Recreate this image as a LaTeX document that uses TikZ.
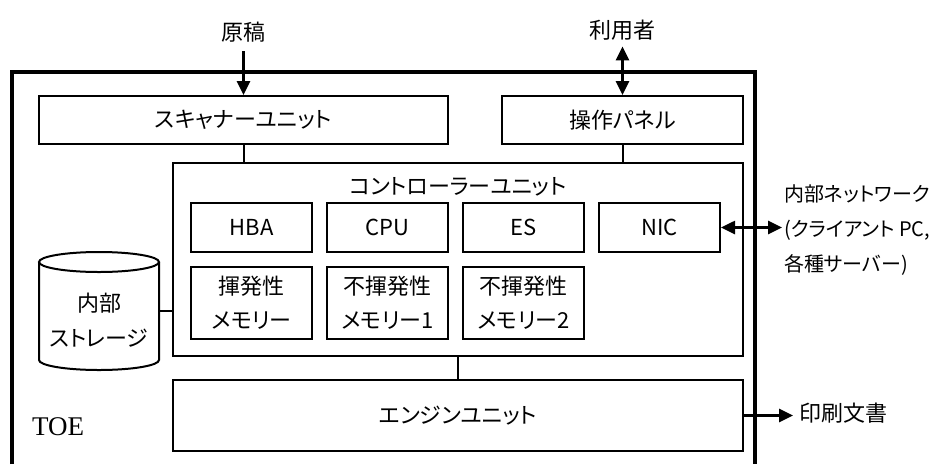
\documentclass[tikz,border=0pt]{standalone}
\usepackage{fontspec}
\setmainfont{Liberation Serif}
\newfontfamily\jp[RawFeature=+palt]{Noto Sans CJK JP}
\usetikzlibrary{arrows.meta}
\begin{document}
\begin{tikzpicture}[x=1pt,y=-1pt,
  box/.style={draw, line width=2pt, inner sep=0pt, font=\jp\fontsize{22}{34}\selectfont, align=center},
  lbl/.style={inner sep=0pt, font=\jp\fontsize{22}{35}\selectfont},
  link/.style={line width=2pt},
  tip/.tip={Triangle[length=14pt,width=13pt]},
  arr/.style={line width=2.6pt, -tip},
  darr/.style={line width=2.6pt, tip-tip},
]
\useasboundingbox (0,0) rectangle (939,464);
% outer TOE boundary (open at the bottom)
\draw[line width=4.5pt] (12,464) -- (12,72) -- (755,72) -- (755,464);
\node[inner sep=0pt, anchor=west, font=\fontsize{27}{27}\selectfont] (toe) at (32,427) {TOE};

% units
\node[box, minimum width=409pt, minimum height=48pt] (scan) at (243.5,120) {スキャナーユニット};
\node[box, minimum width=241pt, minimum height=48pt] (panel) at (622.5,120) {操作パネル};
\node[box, minimum width=570pt, minimum height=193pt] (ctrl) at (458,259.5) {};
\node[lbl] (ctitle) at (458,187) {コントローラーユニット};
\node[box, minimum width=121pt, minimum height=49pt] (hba) at (251.5,227.5) {HBA};
\node[box, minimum width=121pt, minimum height=49pt] (cpu) at (387.5,227.5) {CPU};
\node[box, minimum width=121pt, minimum height=49pt] (es) at (523.5,227.5) {ES};
\node[box, minimum width=121pt, minimum height=49pt] (nic) at (659.5,227.5) {NIC};
\node[box, minimum width=121pt, minimum height=72pt] (vmem) at (251.5,303) {揮発性\\メモリー};
\node[box, minimum width=121pt, minimum height=72pt] (nvm1) at (387.5,303) {不揮発性\\メモリー1};
\node[box, minimum width=121pt, minimum height=72pt] (nvm2) at (523.5,303) {不揮発性\\メモリー2};
\node[box, minimum width=570pt, minimum height=71pt] (engine) at (458,415.5) {エンジンユニット};

% internal storage (cylinder)
\node[inner sep=0pt, minimum width=120pt, minimum height=118pt] (stor) at (99,311) {};
\draw[link] (99,262) ellipse [x radius=60, y radius=10];
\draw[link] (39,262) -- (39,360) arc[start angle=180, end angle=0, x radius=60, y radius=10] -- (159,262);
\node[lbl, align=center] (stortext) at ([yshift=-9pt]stor.center) {内部\\ストレージ};

% internal links
\draw[link] (scan.south) -- (scan.south |- ctrl.north);
\draw[link] (panel.south) -- (panel.south |- ctrl.north);
\draw[link] (ctrl.south) -- (engine.north);
\draw[link] (stor.east) -- (stor.east -| ctrl.west);

% external items
\node[lbl] (genko) at (243.5,32) {原稿};
\node[lbl] (user) at (622.5,30) {利用者};
\node[lbl, anchor=west, align=left, font=\jp\fontsize{20}{35}\selectfont] (net) at (784,230) {内部ネットワーク\\(クライアント PC,\\各種サーバー)};
\node[lbl, anchor=west] (print) at (799,413) {印刷文書};

\draw[arr, shorten <=9pt] (genko.south) -- (scan.north);
\draw[darr, shorten <=6pt] (user.south) -- (panel.north);
\draw[darr, shorten >=2pt] (nic.east) -- (nic.east -| net.west);
\draw[arr, shorten >=6pt] (engine.east) -- (engine.east -| print.west);
\end{tikzpicture}
\end{document}
